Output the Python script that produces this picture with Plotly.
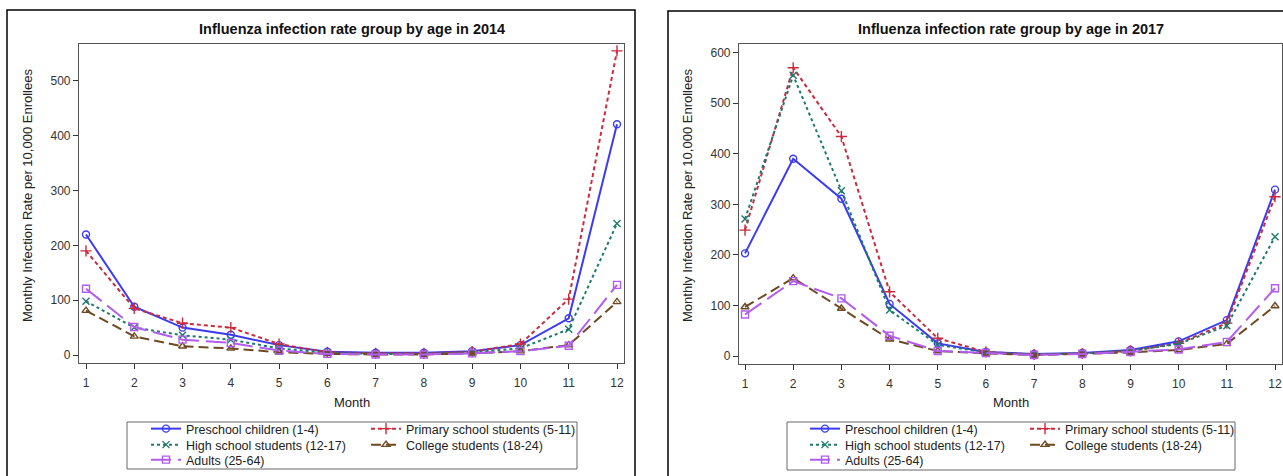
import plotly.graph_objects as go

months = list(range(1, 13))
series_names = [
    "Preschool children (1-4)",
    "Primary school students (5-11)",
    "High school students (12-17)",
    "College students (18-24)",
    "Adults (25-64)",
]

# 2014 monthly infection rates per 10,000 enrollees
preschool_2014 = [220, 88, 50, 37, 18, 6, 4, 4, 7, 18, 67, 421]
primary_2014 = [190, 85, 58, 50, 20, 5, 3, 3, 6, 20, 102, 555]
high_2014 = [98, 50, 36, 28, 12, 4, 2, 2, 5, 12, 47, 240]
college_2014 = [81, 34, 16, 12, 5, 2, 1, 1, 3, 7, 18, 97]
adults_2014 = [121, 51, 28, 22, 8, 2, 1, 1, 3, 7, 17, 128]

# 2017 monthly infection rates per 10,000 enrollees
preschool_2017 = [203, 390, 311, 103, 25, 8, 4, 6, 12, 29, 71, 329]
primary_2017 = [249, 570, 434, 127, 35, 8, 3, 5, 10, 25, 65, 315]
high_2017 = [271, 555, 327, 91, 22, 7, 3, 5, 10, 24, 60, 236]
college_2017 = [97, 154, 94, 33, 10, 5, 2, 4, 7, 12, 24, 99]
adults_2017 = [82, 148, 114, 40, 10, 6, 2, 4, 8, 13, 28, 134]

yticks_2014 = [0, 100, 200, 300, 400, 500]
yticks_2017 = [0, 100, 200, 300, 400, 500, 600]

W, H = 1283, 476
FONT = "Liberation Sans, Arial, sans-serif"


def px(x):
    return x / W


def py(y):
    return 1 - y / H


styles = [
    dict(color="#3b3bf2", dash="solid", symbol="circle-open", size=7),
    dict(color="#cc2b3d", dash="4px,3px", symbol="cross-thin-open", size=8),
    dict(color="#1c7a6c", dash="3px,3px", symbol="x-thin-open", size=7),
    dict(color="#6e4a22", dash="10px,5px", symbol="triangle-up-open", size=7),
    dict(color="#b35cf0", dash="20px,7px", symbol="square-open", size=7),
]

data_2014 = [preschool_2014, primary_2014, high_2014, college_2014, adults_2014]
data_2017 = [preschool_2017, primary_2017, high_2017, college_2017, adults_2017]

# legend row assignment: two columns, three rows
row_of = [0, 0, 1, 1, 2]

fig = go.Figure()

for panel, (dataset, xa, ya) in enumerate([(data_2014, "x", "y"), (data_2017, "x2", "y2")]):
    for i, (name, vals) in enumerate(zip(series_names, dataset)):
        st = styles[i]
        legend_idx = panel * 3 + row_of[i] + 1
        legend_name = "legend" if legend_idx == 1 else f"legend{legend_idx}"
        fig.add_trace(go.Scatter(
            x=months, y=vals, name=name, mode="lines+markers",
            xaxis=xa, yaxis=ya,
            line=dict(color=st["color"], width=2, dash=st["dash"]),
            marker=dict(symbol=st["symbol"], size=st["size"], color=st["color"],
                        line=dict(color=st["color"], width=1.4)),
            legend=legend_name,
            showlegend=True,
        ))

axis_common = dict(
    showgrid=False, zeroline=False, showline=True, mirror=True,
    linecolor="#555555", linewidth=1.2,
    ticks="outside", ticklen=5, tickwidth=1, tickcolor="#333333",
    tickfont=dict(family=FONT, size=12, color="#333333"),
)

fig.update_layout(
    width=W, height=H, autosize=False,
    margin=dict(l=0, r=0, t=0, b=0),
    paper_bgcolor="white", plot_bgcolor="white",
    font=dict(family=FONT, size=12, color="#222222"),
    xaxis=dict(domain=[px(79), px(624)], range=[0.855, 12.145], anchor="y",
               tickvals=months, ticklabelstandoff=3, **axis_common),
    yaxis=dict(domain=[py(363), py(44)], range=[-14.6, 567.5], anchor="x",
               tickvals=yticks_2014, **axis_common),
    xaxis2=dict(domain=[px(739), px(1282)], range=[0.875, 12.145], anchor="y2",
                tickvals=months, ticklabelstandoff=3, **axis_common),
    yaxis2=dict(domain=[py(364), py(44)], range=[-15.8, 617], anchor="x2",
                tickvals=yticks_2017, **axis_common),
)

# legends: one per row per panel
legend_common = dict(
    orientation="h", entrywidth=175, entrywidthmode="pixels",
    xanchor="left", yanchor="middle", bgcolor="rgba(0,0,0,0)",
    borderwidth=0, font=dict(family=FONT, size=12.5, color="#222222"),
    traceorder="normal", tracegroupgap=0,
)
row_y = [429, 445, 460]
legend_x = [146, 805]
for panel in range(2):
    for r in range(3):
        idx = panel * 3 + r + 1
        key = "legend" if idx == 1 else f"legend{idx}"
        fig.update_layout({key: dict(x=px(legend_x[panel]), y=py(row_y[r]), **legend_common)})

annotations = []
titles = ["Influenza infection rate group by age in 2014",
          "Influenza infection rate group by age in 2017"]
centers = [(79 + 624) / 2, (739 + 1282) / 2]
ytitle_x = [27, 687]
for t, c, yx in zip(titles, centers, ytitle_x):
    annotations.append(dict(text=t, x=px(c), y=py(29), xref="paper", yref="paper",
                            showarrow=False, xanchor="center", yanchor="middle",
                            font=dict(family=FONT, size=14.5, color="#111111", weight="bold")))
    annotations.append(dict(text="Month", x=px(c), y=py(402), xref="paper", yref="paper",
                            showarrow=False, xanchor="center", yanchor="middle",
                            font=dict(family=FONT, size=13, color="#222222")))
    annotations.append(dict(text="Monthly Infection Rate per 10,000 Enrollees",
                            x=px(yx), y=py(196), xref="paper", yref="paper",
                            showarrow=False, xanchor="center", yanchor="middle",
                            textangle=-90,
                            font=dict(family=FONT, size=13, color="#222222")))
fig.update_layout(annotations=annotations)

shapes = [
    # panel borders
    dict(type="rect", xref="paper", yref="paper", x0=px(7), x1=px(635), y0=py(490), y1=py(10),
         line=dict(color="black", width=1.5), fillcolor="rgba(0,0,0,0)", layer="above"),
    dict(type="rect", xref="paper", yref="paper", x0=px(668), x1=px(1300), y0=py(490), y1=py(11),
         line=dict(color="black", width=1.5), fillcolor="rgba(0,0,0,0)", layer="above"),
    # legend boxes
    dict(type="rect", xref="paper", yref="paper", x0=px(127), x1=px(577), y0=py(469), y1=py(422),
         line=dict(color="#666666", width=1), fillcolor="rgba(0,0,0,0)"),
    dict(type="rect", xref="paper", yref="paper", x0=px(787), x1=px(1235), y0=py(470), y1=py(422),
         line=dict(color="#666666", width=1), fillcolor="rgba(0,0,0,0)"),
]
fig.update_layout(shapes=shapes)

fig.write_html(
    "out.html",
    config={"displayModeBar": False},
    post_script="document.body.style.margin='0';document.body.style.padding='0';",
)
